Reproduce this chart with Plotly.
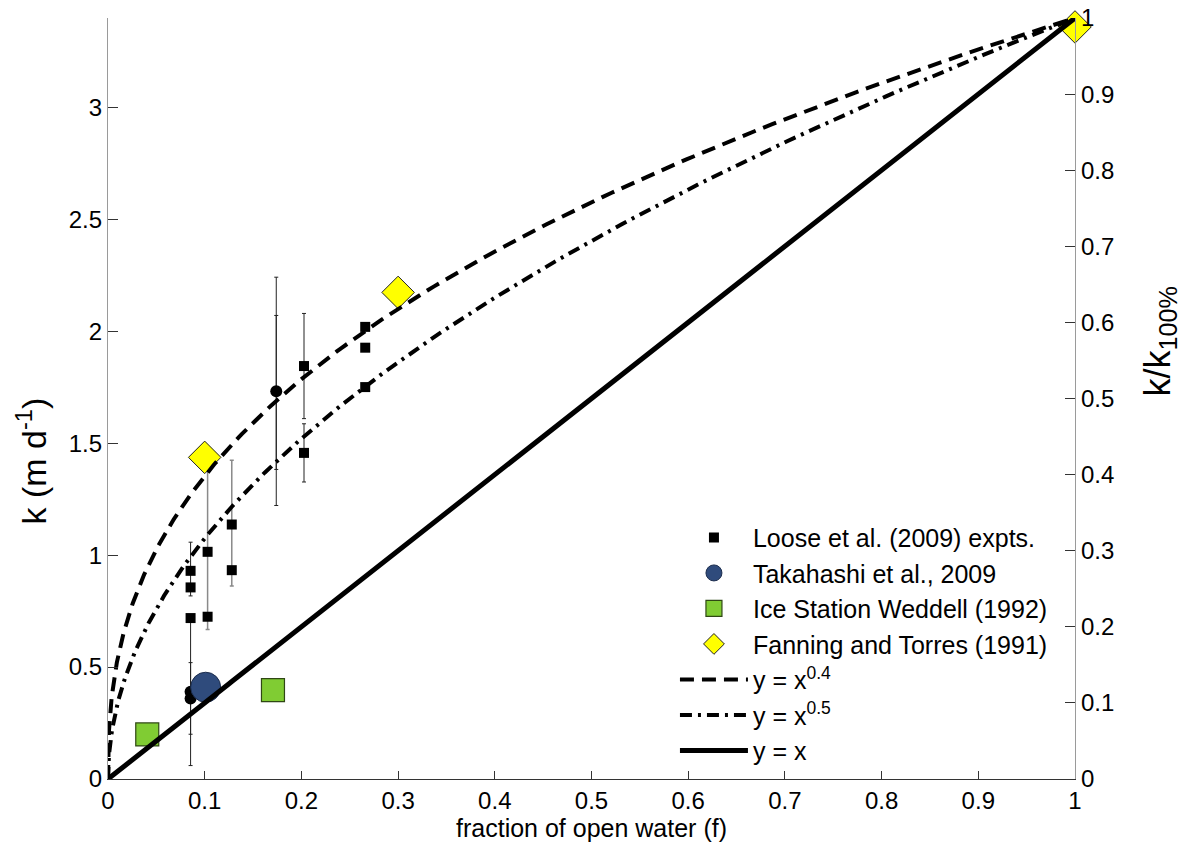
import numpy as np
import plotly.graph_objects as go

# ---------------- data ----------------
K100 = 3.4  # k at 100% open water (left axis top)

loose_sq_f = [0.0854, 0.0854, 0.0854, 0.103, 0.103, 0.128, 0.128, 0.2027, 0.2027, 0.266, 0.266, 0.266]
loose_sq_k = [0.93, 0.856, 0.719, 1.015, 0.725, 1.137, 0.933, 1.845, 1.457, 2.02, 1.927, 1.751]

loose_ci_f = [0.0854, 0.0854, 0.174]
loose_ci_k = [0.39, 0.36, 1.732]

err_blk_f = [0.0854, 0.0854, 0.0854, 0.174, 0.174, 0.2027, 0.2027]
err_blk_k = [0.39, 0.36, 0.93, 1.732, 1.727, 1.845, 1.457]
err_blk_minus = [0.33, 0.16, 0.112, 0.51, 0.344, 0.235, 0.13]
err_blk_plus = [0.33, 0.16, 0.128, 0.51, 0.344, 0.235, 0.13]

err_gry_f = [0.103, 0.128]
err_gry_k = [1.015, 1.137]
err_gry_minus = [0.347, 0.275]
err_gry_plus = [0.414, 0.287]

tak_f = [0.101]
tak_k = [0.41]

isw_f = [0.0406, 0.1706]
isw_k = [0.199, 0.397]

fan_f = [0.1, 0.3, 1.0]
fan_k = [1.437, 2.174, 3.36]

curve_exponents = [0.4, 0.5, 1.0]
curve_names = ["y = x<sup>0.4</sup>", "y = x<sup>0.5</sup>", "y = x"]
curve_dash = ["14px,8px", "12px,6px,3px,6px", "solid"]
curve_width = [4, 4, 5]

left_title = "k\u00a0(m\u00a0d<sup>-1</sup>)"
right_title = "k/k<sub>100%</sub>"
x_title = "fraction of open water (f)"

# ---------------- figure ----------------
fig = go.Figure()

fig.add_trace(go.Scatter(x=err_blk_f, y=err_blk_k, mode="markers", showlegend=False,
                         marker=dict(size=2, opacity=0),
                         error_y=dict(type="data", symmetric=False, array=err_blk_plus,
                                      arrayminus=err_blk_minus, color="#222222",
                                      thickness=1, width=2),
                         hoverinfo="skip"))
fig.add_trace(go.Scatter(x=err_gry_f, y=err_gry_k, mode="markers", showlegend=False,
                         marker=dict(size=2, opacity=0),
                         error_y=dict(type="data", symmetric=False, array=err_gry_plus,
                                      arrayminus=err_gry_minus, color="#8a8a8a",
                                      thickness=1.5, width=2),
                         hoverinfo="skip"))

fig.add_trace(go.Scatter(x=loose_sq_f, y=loose_sq_k, mode="markers",
                         name="Loose et al. (2009) expts.",
                         marker=dict(symbol="square", size=10, color="black")))
fig.add_trace(go.Scatter(x=loose_ci_f, y=loose_ci_k, mode="markers", showlegend=False,
                         marker=dict(symbol="circle", size=12, color="black")))
fig.add_trace(go.Scatter(x=tak_f, y=tak_k, mode="markers", name="Takahashi et al., 2009",
                         marker=dict(symbol="circle", size=30, color="#2f4b7c",
                                     line=dict(color="#1c2d4d", width=1))))
fig.add_trace(go.Scatter(x=isw_f, y=isw_k, mode="markers", name="Ice Station Weddell (1992)",
                         marker=dict(symbol="square", size=23, color="#80cc33",
                                     line=dict(color="#2f4714", width=1.2))))
fig.add_trace(go.Scatter(x=fan_f, y=fan_k, mode="markers", name="Fanning and Torres (1991)",
                         cliponaxis=False,
                         marker=dict(symbol="diamond", size=25, color="#ffff00",
                                     line=dict(color="#222222", width=1))))

f_curve = np.concatenate([[0.0], np.logspace(-6, 0, 700)])
for p, nm, ds, w in zip(curve_exponents, curve_names, curve_dash, curve_width):
    fig.add_trace(go.Scatter(x=f_curve, y=f_curve ** p, mode="lines", name=nm, yaxis="y2",
                             cliponaxis=False,
                             line=dict(color="black", width=w, dash=ds)))

font_family = "Liberation Sans, Arial, Helvetica, sans-serif"

fig.update_layout(
    width=1181, height=844,
    margin=dict(l=108, r=106, t=18, b=65, autoexpand=False),
    paper_bgcolor="white", plot_bgcolor="white",
    font=dict(family=font_family, size=24, color="black"),
    xaxis=dict(range=[0, 1], dtick=0.1, tick0=0, ticks="inside", ticklen=8, tickcolor="#333333",
               showline=True, linecolor="#333333", linewidth=1.2, showgrid=False, zeroline=False,
               automargin=False,
               title=dict(text=x_title, font=dict(size=25), standoff=6)),
    yaxis=dict(range=[0, K100], dtick=0.5, tick0=0, ticks="inside", ticklen=10, tickcolor="#333333",
               showline=True, linecolor="#9a9a9a", linewidth=1.2, showgrid=False, zeroline=False,
               automargin=False),
    yaxis2=dict(range=[0, 1], dtick=0.1, tick0=0, overlaying="y", side="right", ticks="inside",
                ticklen=10, tickcolor="#333333", showline=True, linecolor="#9a9a9a", linewidth=1.2,
                showgrid=False, zeroline=False, automargin=False),
    legend=dict(x=0.5863, y=0.007, xanchor="left", yanchor="bottom", bgcolor="rgba(0,0,0,0)",
                font=dict(size=25, family=font_family), itemwidth=68, tracegroupgap=0),
    showlegend=True,
    annotations=[
        dict(text=left_title, xref="paper", yref="paper", x=-0.079, y=0.418, textangle=-90,
             showarrow=False, xanchor="center", yanchor="middle", font=dict(size=34)),
        dict(text=right_title, xref="paper", yref="paper", x=1.088, y=0.575, textangle=-90,
             showarrow=False, xanchor="center", yanchor="middle", font=dict(size=36)),
    ],
)

fig.write_html("out.html")
